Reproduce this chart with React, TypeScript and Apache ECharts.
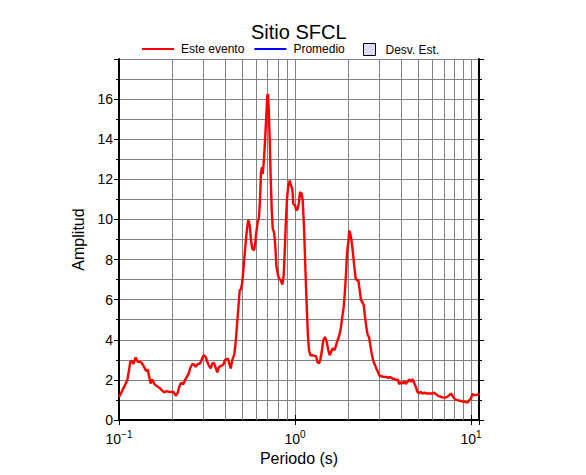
import React, { useEffect, useRef } from 'react';
import * as echarts from 'echarts';

const chartTitle = 'Sitio SFCL';
const xAxisName = 'Periodo (s)';
const yAxisName = 'Amplitud';
const seriesNames = ['Este evento', 'Promedio', 'Desv. Est.'];

// Period (s) of each sample of "Este evento"
const periods = [
  0.1, 0.1036, 0.1082, 0.1115, 0.114, 0.1159, 0.119, 0.1206, 0.1244, 0.1277, 0.1316, 0.1346, 0.1387,
  0.1424, 0.1456, 0.1486, 0.1514, 0.1546, 0.1587, 0.1638, 0.1694, 0.1748, 0.1809, 0.1866, 0.1923,
  0.1974, 0.2035, 0.21, 0.2156, 0.2201, 0.2251, 0.2319, 0.2371, 0.2444, 0.2499, 0.2532, 0.2609,
  0.2668, 0.2728, 0.28, 0.2886, 0.295, 0.3028, 0.3109, 0.3175, 0.3246, 0.3319, 0.3389, 0.3465,
  0.3543, 0.3618, 0.37, 0.3798, 0.3914,
  0.4002, 0.4146, 0.4233, 0.4312, 0.4403, 0.452, 0.4603, 0.4682, 0.4763, 0.4851, 0.4934, 0.5018,
  0.5131, 0.5247, 0.5337, 0.5428, 0.5529, 0.5623, 0.572, 0.5849, 0.5926, 0.6027, 0.6139, 0.6244,
  0.6326, 0.641, 0.6494, 0.6554, 0.6666, 0.678, 0.687, 0.696, 0.7024, 0.7089, 0.7182, 0.7277,
  0.7372, 0.7469, 0.7598, 0.7728, 0.783, 0.7974, 0.8111, 0.8294, 0.8469, 0.8626, 0.8739, 0.8854,
  0.9006, 0.916, 0.933, 0.949, 0.9653, 0.978, 1.0, 1.0172, 1.036, 1.0537, 1.0676,
  1.0915, 1.1059, 1.1249, 1.1397, 1.1548, 1.17, 1.1855, 1.2011, 1.2217, 1.254, 1.2874, 1.3162,
  1.3388, 1.3689, 1.3924, 1.4181, 1.4481, 1.4807, 1.5139, 1.5459, 1.5745, 1.6015, 1.6375, 1.6721,
  1.703, 1.7322, 1.7619, 1.7945, 1.8253, 1.8566, 1.8909, 1.9234, 1.9487, 1.9744, 2.0083, 2.0347,
  2.0723, 2.0997, 2.1357, 2.1723, 2.2125, 2.2506, 2.2892, 2.3315, 2.3714, 2.4122, 2.4568, 2.4988,
  2.5417, 2.5887, 2.6331, 2.6783, 2.7277, 2.7745, 2.8221, 2.8742, 2.9236, 2.9737, 3.0284,
  3.0683, 3.1745, 3.2887, 3.3891, 3.4653, 3.5712, 3.6517, 3.7487, 3.833, 3.9136, 4.0016, 4.0916,
  4.1781, 4.2556, 4.3457, 4.4609, 4.5611, 4.6394, 4.7437, 4.8507, 4.9533, 5.0641, 5.1779, 5.2876,
  5.4283, 5.6022, 5.7961, 5.9812, 6.164, 6.3263, 6.5194, 6.7275, 6.906, 7.1171, 7.3345, 7.5291,
  7.6984, 7.8716, 8.1113, 8.3593, 8.6596, 8.9707, 9.2452, 9.5278, 9.7802, 10.0, 10.172, 10.4,
  10.676, 11.002, 11.1,
];

// Amplitude of "Este evento" at each period
const amplitudes = [
  1.14, 1.41, 1.74, 1.99, 2.49, 2.9, 2.95, 2.79, 3.12, 2.9, 2.9, 2.85, 2.65,
  2.44, 2.52, 2.15, 1.82, 2.02, 1.79, 1.69, 1.61, 1.49, 1.38, 1.44, 1.41,
  1.39, 1.41, 1.21, 1.36, 1.66, 1.86, 1.78, 1.99, 2.19, 2.35, 2.57, 2.79,
  2.77, 2.65, 2.79, 2.82, 3.02, 3.23, 3.15, 2.9, 2.7, 2.57, 2.82, 2.85,
  2.6, 2.37, 2.65, 2.69, 2.77,
  2.99, 3.07, 2.82, 2.57, 2.99, 3.27, 3.9, 4.73, 5.56, 6.47, 6.52, 6.88,
  7.88, 8.87, 9.54, 9.98, 9.7, 8.96, 8.54, 8.46, 8.71, 9.37, 9.87, 10.12,
  11.03, 12.35, 12.6, 12.27, 13.02, 14.18, 15.17, 16.17, 16.25, 15.5, 14.01, 12.02,
  10.53, 9.54, 9.37, 8.71, 7.71, 7.3, 7.05, 6.97, 6.75, 7.21, 8.37, 9.7,
  11.03, 11.69, 11.94, 11.69, 11.53, 10.78, 10.7, 10.45, 10.53, 10.86, 11.36,
  11.28, 10.95, 9.62, 8.13, 6.63, 5.31, 4.14, 3.48, 3.23, 3.23, 3.2, 3.18,
  2.9, 2.82, 2.99, 3.4, 3.98, 4.14, 3.9, 3.48, 3.23, 3.4, 3.57, 3.48,
  3.65, 3.9, 4.06, 4.31, 4.64, 5.14, 5.64, 6.47, 7.3, 8.29, 8.87, 9.45,
  9.2, 8.87, 8.29, 7.63, 7.05, 6.97, 6.97, 6.47, 5.97, 5.89, 5.72, 5.14,
  4.64, 4.23, 4.14, 3.73, 3.32, 2.99, 2.82, 2.65, 2.49, 2.35, 2.19,
  2.2, 2.15, 2.15, 2.1, 2.15, 2.07, 2.05, 1.99, 2.02, 1.79, 1.87, 1.82,
  1.95, 1.79, 1.9, 2.02, 1.9, 2.04, 1.87, 1.66, 1.41, 1.32, 1.41, 1.32,
  1.36, 1.32, 1.32, 1.32, 1.36, 1.29, 1.19, 1.16, 1.13, 1.11, 1.16, 1.24,
  1.32, 1.19, 1.03, 0.99, 0.96, 0.91, 0.91, 0.86, 0.99, 1.08, 1.29, 1.24,
  1.24, 1.29, 1.24,
];

// Minor (log) grid positions on the period axis
const minorGridPeriods = [0.2, 0.3, 0.4, 0.5, 0.6, 0.7, 0.8, 0.9, 2, 3, 4, 5, 6, 7, 8, 9];

const FONT = '"Liberation Sans", Arial, Helvetica, sans-serif';
const GRID_COLOR = '#808080';

export default function App() {
  const ref = useRef<HTMLDivElement>(null);

  useEffect(() => {
    if (!ref.current) return;
    const chart = echarts.init(ref.current, null, { renderer: 'svg' });

    const logLabel = (v: number) => {
      const e = Math.log10(v);
      const r = Math.round(e);
      if (Math.abs(e - r) > 1e-6) return '';
      const exp = r < 0 ? '\u2212' + Math.abs(r) : String(r);
      return '{b|10}{s|' + exp + '}';
    };

    const data = periods.map((p, i) => [p, amplitudes[i]]);

    const option: any = {
      animation: false,
      textStyle: { fontFamily: FONT, color: '#000' },
      title: {
        text: chartTitle,
        left: 251,
        top: 22,
        padding: 0,
        textStyle: { fontFamily: FONT, fontSize: 20, lineHeight: 20, fontWeight: 'normal', color: '#000' },
      },
      legend: [
        {
          data: [seriesNames[0], seriesNames[1]],
          left: 142,
          top: 43,
          padding: 0,
          itemWidth: 32,
          itemHeight: 2,
          itemGap: 10,
          icon: 'rect',
          selectedMode: false,
          textStyle: { fontFamily: FONT, fontSize: 12, lineHeight: 12, color: '#000', padding: [0, 0, 0, 2] },
        },
        {
          data: [
            {
              name: seriesNames[2],
              itemStyle: { color: '#dcdcf8', borderColor: '#000', borderWidth: 1 },
            },
          ],
          left: 363,
          top: 43,
          padding: 0,
          itemWidth: 12,
          itemHeight: 12,
          icon: 'rect',
          selectedMode: false,
          textStyle: { fontFamily: FONT, fontSize: 12, lineHeight: 12, color: '#000', padding: [0, 0, 0, 5] },
        },
      ],
      grid: { left: 119, right: 107, top: 59, bottom: 55, containLabel: false },
      xAxis: [
        {
          type: 'log',
          logBase: 10,
          min: 0.1,
          max: 11.1,
          position: 'bottom',
          name: xAxisName,
          nameLocation: 'middle',
          nameGap: 30,
          nameTextStyle: { fontFamily: FONT, fontSize: 16, color: '#000' },
          axisLine: { show: true, lineStyle: { color: '#000', width: 2 } },
          axisTick: { show: true, inside: false, length: 5, lineStyle: { color: '#000', width: 1 } },
          axisLabel: {
            formatter: logLabel,
            margin: 9,
            color: '#000',
            rich: {
              b: { fontFamily: FONT, fontSize: 14, color: '#000' },
              s: { fontFamily: FONT, fontSize: 10, color: '#000', padding: [0, 0, 9, 0] },
            },
          },
          splitLine: { show: true, lineStyle: { color: GRID_COLOR, width: 1 } },
        },
        {
          type: 'log',
          logBase: 10,
          min: 0.1,
          max: 11.1,
          position: 'top',
          axisLine: { show: true, lineStyle: { color: '#000', width: 2 } },
          axisTick: { show: true, inside: false, length: 5, lineStyle: { color: '#000', width: 1 } },
          axisLabel: { show: false },
          splitLine: { show: false },
        },
      ],
      yAxis: [
        {
          type: 'value',
          min: 0,
          max: 18,
          interval: 2,
          position: 'left',
          name: yAxisName,
          nameLocation: 'middle',
          nameGap: 30,
          nameTextStyle: { fontFamily: FONT, fontSize: 16, color: '#000' },
          axisLine: { show: true, lineStyle: { color: '#000', width: 2 } },
          axisTick: { show: true, inside: false, length: 5, lineStyle: { color: '#000', width: 1 } },
          minorTick: { show: true, splitNumber: 2, length: 3, lineStyle: { color: '#000', width: 1 } },
          axisLabel: {
            fontFamily: FONT,
            fontSize: 14,
            color: '#000',
            margin: 6,
            formatter: (v: number) => (v >= 18 ? '' : String(v)),
          },
          splitLine: { show: true, lineStyle: { color: GRID_COLOR, width: 1 } },
          minorSplitLine: { show: true, lineStyle: { color: GRID_COLOR, width: 1 } },
        },
        {
          type: 'value',
          min: 0,
          max: 18,
          interval: 2,
          position: 'right',
          axisLine: { show: true, lineStyle: { color: '#000', width: 2 } },
          axisTick: { show: true, inside: false, length: 5, lineStyle: { color: '#000', width: 1 } },
          minorTick: { show: true, splitNumber: 2, length: 3, lineStyle: { color: '#000', width: 1 } },
          axisLabel: { show: false },
          splitLine: { show: false },
        },
      ],
      series: [
        {
          name: 'grid',
          type: 'line',
          xAxisIndex: 0,
          yAxisIndex: 0,
          data: [[1, 0]],
          symbol: 'none',
          lineStyle: { opacity: 0 },
          silent: true,
          z: 1,
          markLine: {
            silent: true,
            symbol: ['none', 'none'],
            label: { show: false },
            lineStyle: { color: GRID_COLOR, width: 1, type: 'solid' },
            emphasis: { disabled: true },
            data: minorGridPeriods.map((v) => ({ xAxis: v })),
          },
        },
        {
          name: seriesNames[0],
          type: 'line',
          xAxisIndex: 0,
          yAxisIndex: 0,
          data,
          symbol: 'none',
          showSymbol: false,
          color: '#ff0000',
          lineStyle: { color: '#ff0000', width: 2.4 },
          z: 5,
        },
        {
          name: seriesNames[1],
          type: 'line',
          xAxisIndex: 0,
          yAxisIndex: 0,
          data: [],
          symbol: 'none',
          color: '#0000ff',
          lineStyle: { color: '#0000ff', width: 2 },
        },
        {
          name: seriesNames[2],
          type: 'line',
          xAxisIndex: 0,
          yAxisIndex: 0,
          data: [],
          symbol: 'none',
          color: '#dcdcf8',
        },
      ],
    };

    chart.setOption(option);
    return () => chart.dispose();
  }, []);

  return (
    <div
      ref={ref}
      style={{ position: 'fixed', left: 0, top: 0, width: 586, height: 475, background: '#fff' }}
    />
  );
}
